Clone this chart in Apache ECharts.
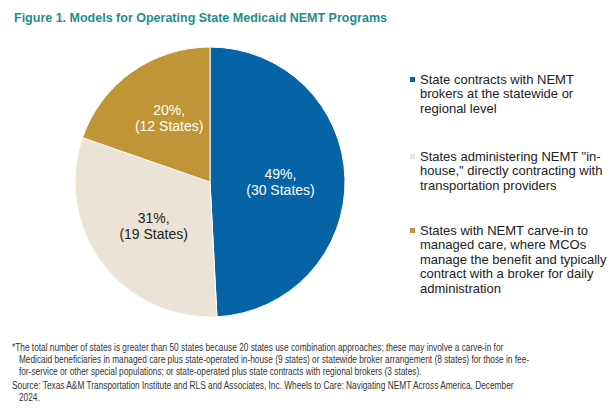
<!DOCTYPE html>
<html><head><meta charset="utf-8">
<script src="https://cdn.jsdelivr.net/npm/echarts@6/dist/echarts.min.js"></script>
<style>html,body{margin:0;padding:0;background:#fff}#c{width:612px;height:412px}</style>
</head><body><div id="c"></div>
<script>
const categories = [
  'State contracts with NEMT\nbrokers at the statewide or\nregional level',
  'States administering NEMT "in-\nhouse," directly contracting with\ntransportation providers',
  'States with NEMT carve-in to\nmanaged care, where MCOs\nmanage the benefit and typically\ncontract with a broker for daily\nadministration'
];
const states = [30, 19, 12];
const percents = [49, 31, 20];
const colors = ['#0563a6', '#ebe4d6', '#c09535'];
const labelColors = ['#ffffff', '#222222', '#ffffff'];
const legendTops = [72, 149, 223];

const font = '"Liberation Sans", Arial, sans-serif';
const chart = echarts.init(document.getElementById('c'), null, {renderer: 'svg'});

const noteScale = 0.815;
const graphics = [
  {type: 'text', left: 14, top: 11, style: {text: 'Figure 1. Models for Operating State Medicaid NEMT Programs', fill: '#1f8c8c', font: 'bold 12.5px ' + font}},
  {type: 'text', x: 12, y: 342, scaleX: noteScale, style: {text: '*The total number of states is greater than 50 states because 20 states use combination approaches; these may involve a carve-in for\n   Medicaid beneficiaries in managed care plus state-operated in-house (9 states) or statewide broker arrangement (8 states) for those in fee-\n   for-service or other special populations; or state-operated plus state contracts with regional brokers (3 states).', fill: '#333', font: '10.2px ' + font, lineHeight: 11.8}},
  {type: 'text', x: 12, y: 380, scaleX: noteScale, style: {text: 'Source: Texas A&M Transportation Institute and RLS and Associates, Inc. Wheels to Care: Navigating NEMT Across America, December\n   2024.', fill: '#333', font: '10.2px ' + font, lineHeight: 11.5}}
];
categories.forEach((c, i) => {
  graphics.push({type: 'rect', shape: {x: 410, y: legendTops[i] + 5, width: 5, height: 5}, style: {fill: colors[i]}});
  graphics.push({type: 'text', left: 420, top: legendTops[i], style: {text: c, fill: '#222', font: '13px ' + font, lineHeight: 14.5}});
});

chart.setOption({
  animation: false,
  graphic: graphics,
  series: [{
    type: 'pie',
    center: [210, 182],
    radius: [0, 135],
    startAngle: 90,
    clockwise: true,
    data: states.map((v, i) => ({
      value: v, name: categories[i],
      itemStyle: {color: colors[i]},
      label: {color: labelColors[i], offset: i === 2 ? [0, -7] : [0, 2]}
    })),
    itemStyle: {borderColor: '#fff', borderWidth: 1},
    label: {
      position: 'inner',
      formatter: p => percents[p.dataIndex] + '%,\n(' + p.value + ' States)',
      fontFamily: font, fontSize: 14, lineHeight: 16
    },
    labelLine: {show: false}
  }]
});
</script></body></html>
